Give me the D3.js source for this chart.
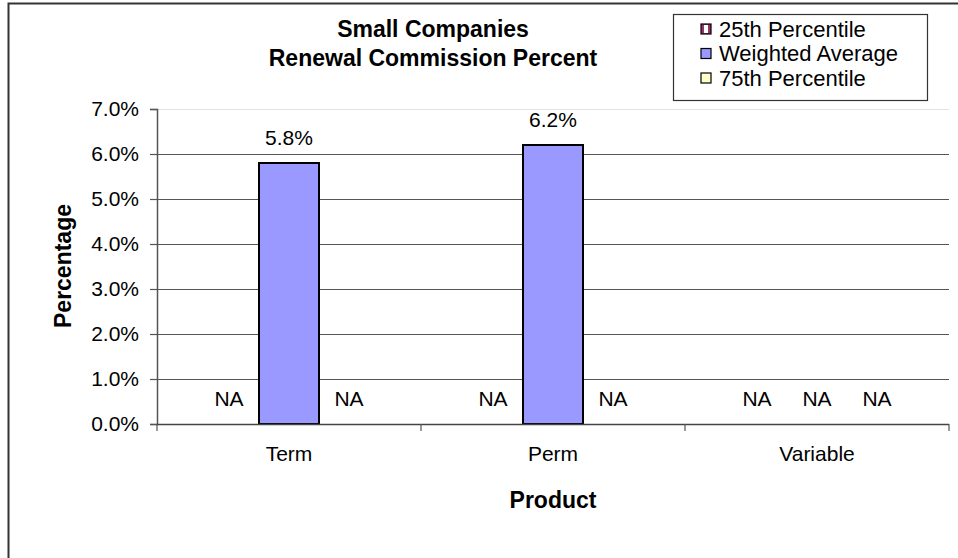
<!DOCTYPE html>
<html>
<head>
<meta charset="utf-8">
<script src="https://cdn.jsdelivr.net/npm/d3@7"></script>
<style>
  html, body { margin: 0; padding: 0; background: #fff; }
  svg { display: block; font-family: "Liberation Sans", Arial, sans-serif; }
</style>
</head>
<body>
<svg id="chart" width="958" height="558"></svg>
<script>
// Renewal commission data for small companies, by product
const categories = ["Term", "Perm", "Variable"];
const seriesNames = ["25th Percentile", "Weighted Average", "75th Percentile"];
const p25Values = [null, null, null];
const weightedAvgValues = [0.058, 0.062, null];
const p75Values = [null, null, null];
const yTickValues = [0, 0.01, 0.02, 0.03, 0.04, 0.05, 0.06, 0.07];
const seriesColors = ["#993366", "#9999FF", "#FFFFCC"];

const seriesValues = [p25Values, weightedAvgValues, p75Values];

const svg = d3.select("#chart");
const W = 958, H = 558;
const plot = { left: 157, right: 949, top: 109, bottom: 424 };

// Outer chart frame
svg.append("rect")
  .attr("x", 8.5).attr("y", 3.5)
  .attr("width", W + 20).attr("height", H + 20)
  .attr("fill", "#fff").attr("stroke", "#333").attr("stroke-width", 2);

const y = d3.scaleLinear().domain([0, 0.07]).range([plot.bottom, plot.top]);
const x = d3.scaleBand().domain(categories).range([plot.left, plot.right]).padding(0);
const xs = d3.scaleBand().domain(seriesNames).range([0, x.bandwidth()])
  .paddingInner(0).paddingOuter(0.7);

// Horizontal gridlines
svg.append("g").selectAll("line")
  .data(yTickValues.filter(v => v > 0))
  .join("line")
  .attr("x1", plot.left).attr("x2", plot.right)
  .attr("y1", d => Math.round(y(d)) + 0.5).attr("y2", d => Math.round(y(d)) + 0.5)
  .attr("stroke", d => d >= 0.07 ? "#e2e2e2" : "#555")
  .attr("stroke-width", 1.2);

// Y axis
const yAxis = svg.append("g")
  .attr("transform", `translate(${plot.left},0)`)
  .call(d3.axisLeft(y).tickValues(yTickValues).tickFormat(d3.format(".1%"))
    .tickSize(7).tickPadding(11));
yAxis.select(".domain").attr("stroke", "#555").attr("stroke-width", 1.5);
yAxis.selectAll(".tick line").attr("stroke", "#555").attr("stroke-width", 1.2);
yAxis.selectAll(".tick text")
  .attr("font-size", 21).attr("fill", "#000")
  .attr("font-family", "'Liberation Sans', Arial, sans-serif");

// Bars
const groups = svg.append("g").selectAll("g")
  .data(categories)
  .join("g")
  .attr("transform", d => `translate(${x(d)},0)`);

const cells = groups.selectAll("g")
  .data((c, i) => seriesNames.map((s, j) => ({ cat: c, series: s, j, value: seriesValues[j][i] })))
  .join("g");

cells.filter(d => d.value != null)
  .append("rect")
  .attr("x", d => xs(d.series))
  .attr("width", xs.bandwidth())
  .attr("y", d => y(d.value))
  .attr("height", d => y(0) - y(d.value))
  .attr("fill", d => seriesColors[d.j])
  .attr("stroke", "#000")
  .attr("stroke-width", 2);

// Data labels (NA where no value reported)
cells.append("text")
  .attr("x", d => xs(d.series) + xs.bandwidth() / 2)
  .attr("y", d => y(d.value == null ? 0 : d.value) - 18.5)
  .attr("text-anchor", "middle")
  .attr("font-size", 21)
  .text(d => d.value == null ? "NA" : d3.format(".1%")(d.value));

// X axis baseline
svg.append("line")
  .attr("x1", plot.left).attr("x2", plot.right)
  .attr("y1", plot.bottom + 0.5).attr("y2", plot.bottom + 0.5)
  .attr("stroke", "#444").attr("stroke-width", 1.5);

// Category boundary ticks
const boundary = d3.scaleLinear().domain([0, categories.length]).range([plot.left, plot.right]);
svg.append("g").selectAll("line")
  .data(d3.range(categories.length + 1))
  .join("line")
  .attr("x1", d => boundary(d)).attr("x2", d => boundary(d))
  .attr("y1", plot.bottom).attr("y2", plot.bottom + 7)
  .attr("stroke", "#555").attr("stroke-width", 1.2);

// Category labels
const xAxis = svg.append("g")
  .attr("transform", `translate(0,${plot.bottom})`)
  .call(d3.axisBottom(x).tickSize(0).tickPadding(22));
xAxis.select(".domain").remove();
xAxis.selectAll(".tick text")
  .attr("font-size", 21).attr("fill", "#000")
  .attr("font-family", "'Liberation Sans', Arial, sans-serif");

// Axis titles
svg.append("text")
  .attr("x", (plot.left + plot.right) / 2).attr("y", 508)
  .attr("text-anchor", "middle")
  .attr("font-size", 23).attr("font-weight", "bold")
  .text("Product");

svg.append("text")
  .attr("transform", "translate(71,266) rotate(-90)")
  .attr("text-anchor", "middle")
  .attr("font-size", 23).attr("font-weight", "bold")
  .text("Percentage");

// Chart title
const title = svg.append("text")
  .attr("text-anchor", "middle")
  .attr("font-size", 23).attr("font-weight", "bold");
title.append("tspan").attr("x", 433).attr("y", 37).text("Small Companies");
title.append("tspan").attr("x", 433).attr("y", 66).text("Renewal Commission Percent");

// Legend
const legend = svg.append("g");
legend.append("rect")
  .attr("x", 673.5).attr("y", 14.5).attr("width", 254).attr("height", 86)
  .attr("fill", "#fff").attr("stroke", "#333").attr("stroke-width", 1.2);

const rowY = d3.scalePoint().domain(seriesNames).range([29, 78]);
const items = legend.selectAll("g.item")
  .data(seriesNames)
  .join("g").attr("class", "item")
  .attr("transform", d => `translate(0,${rowY(d)})`);

items.append("rect")
  .attr("x", 701).attr("y", -5).attr("width", 10).attr("height", 10)
  .attr("fill", (d, i) => seriesColors[i])
  .attr("stroke", "#000").attr("stroke-width", 1.2);
items.filter((d, i) => i === 0).append("rect")
  .attr("x", 704).attr("y", -4).attr("width", 4).attr("height", 8)
  .attr("fill", "#fff");

items.append("text")
  .attr("x", 719).attr("y", 7.8)
  .attr("font-size", 22)
  .text(d => d);
</script>
</body>
</html>
